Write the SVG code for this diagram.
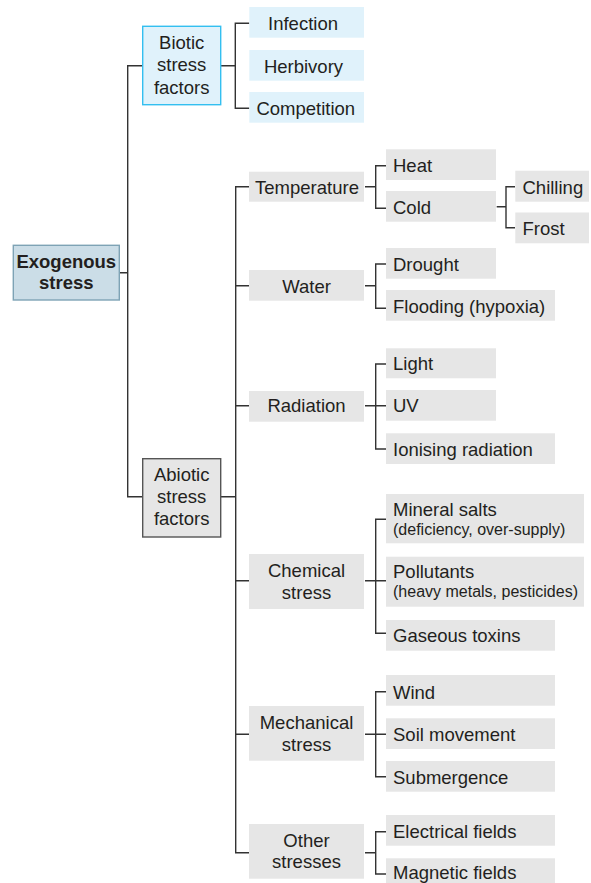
<svg xmlns="http://www.w3.org/2000/svg" width="591" height="883" viewBox="0 0 591 883">
<style>
text{font-family:"Liberation Sans",Arial,sans-serif;font-size:18.5px;fill:#231f20}
.c{text-anchor:middle}
.s{font-size:16px}
.b{font-weight:bold}
.g{fill:#e6e6e6}
.lb{fill:#e0f2fb}
.ln{fill:none;stroke:#333;stroke-width:1.4}
</style>
<rect width="591" height="883" fill="#fff"/>
<g id="connectors" class="ln">
<path d="M119.3 272.7H127.7M142.7 65.7H127.7V496.7H142.7"/>
<path d="M220.7 65.7H235.3M249.3 23.3H235.3V108.3H249.3"/>
<path d="M220.7 496.7H235.7M249 186.7H235.7V852.7H249M235.7 285.7H249M235.7 405.7H249M235.7 580.7H249M235.7 734.3H249"/>
<path d="M365 186.7H375.7M386 165.7H375.7V208.3H386"/>
<path d="M496.7 206.7H506M515 186.7H506V227.7H515"/>
<path d="M365 285.7H375.7M386 264H375.7V308.3H386"/>
<path d="M365 405.7H386M386 364H375.7V449H386"/>
<path d="M365 580.7H386M386 519.3H375.7V633.3H386"/>
<path d="M365 734.3H386M386 691.7H375.7V776.7H386"/>
<path d="M365 852.7H375.7M386 831.7H375.7V874H386"/>
</g>
<g id="exogenous"><rect x="13.3" y="245.3" width="106" height="54.7" fill="#cbdde7" stroke="#7ea3b5" stroke-width="1.4"/><text class="c b" x="66.3" y="268.3">Exogenous</text><text class="c b" x="66.3" y="289.3">stress</text></g>
<g id="biotic"><rect x="142.7" y="26.3" width="78" height="78.4" fill="#e0f2fb" stroke="#33bff0" stroke-width="1.4"/><text class="c" x="181.7" y="49">Biotic</text><text class="c" x="181.7" y="71">stress</text><text class="c" x="181.7" y="93.5">factors</text></g>
<g id="infection"><rect class="lb" x="249.3" y="7" width="114.7" height="30.7"/><text class="c" x="303" y="29.5">Infection</text></g>
<g id="herbivory"><rect class="lb" x="249.3" y="50" width="114.7" height="30.7"/><text class="c" x="303.5" y="72.5">Herbivory</text></g>
<g id="competition"><rect class="lb" x="249.3" y="92" width="114.7" height="30.7"/><text class="c" x="305.8" y="114.5">Competition</text></g>
<g id="abiotic"><rect x="142.7" y="458.7" width="78" height="78.3" fill="#e6e6e6" stroke="#555" stroke-width="1.4"/><text class="c" x="181.7" y="480.7">Abiotic</text><text class="c" x="181.7" y="503">stress</text><text class="c" x="181.7" y="525">factors</text></g>
<g id="temperature"><rect class="g" x="249" y="171.7" width="115" height="30"/><text class="c" x="307" y="194.3">Temperature</text></g>
<g id="heat"><rect class="g" x="386" y="149.3" width="110" height="30.7"/><text x="393" y="172.3">Heat</text></g>
<g id="cold"><rect class="g" x="386" y="191" width="110" height="30.7"/><text x="393" y="214">Cold</text></g>
<g id="chilling"><rect class="g" x="515.3" y="170.7" width="73.7" height="31"/><text x="522.5" y="194">Chilling</text></g>
<g id="frost"><rect class="g" x="515.3" y="212.5" width="73.7" height="30.8"/><text x="522.5" y="235">Frost</text></g>
<g id="water"><rect class="g" x="249" y="270" width="115" height="30.7"/><text class="c" x="306.5" y="292.7">Water</text></g>
<g id="drought"><rect class="g" x="386" y="248" width="110" height="30.7"/><text x="393" y="270.7">Drought</text></g>
<g id="flooding"><rect class="g" x="386" y="290" width="169" height="30.7"/><text x="393" y="312.7">Flooding (hypoxia)</text></g>
<g id="radiation"><rect class="g" x="249" y="391" width="115" height="30.7"/><text class="c" x="306.5" y="411.7">Radiation</text></g>
<g id="light"><rect class="g" x="386" y="348.3" width="110" height="30"/><text x="393" y="370">Light</text></g>
<g id="uv"><rect class="g" x="386" y="390" width="110" height="30.7"/><text x="393" y="412.3">UV</text></g>
<g id="ionising"><rect class="g" x="386" y="433.3" width="169" height="30.7"/><text x="393" y="456">Ionising radiation</text></g>
<g id="chemical"><rect class="g" x="249" y="554" width="115" height="55"/><text class="c" x="306.5" y="577.3">Chemical</text><text class="c" x="306.5" y="599">stress</text></g>
<g id="mineral"><rect class="g" x="386" y="494" width="198" height="49.3"/><text x="393" y="516">Mineral salts</text><text class="s" x="393" y="534.5">(deficiency, over-supply)</text></g>
<g id="pollutants"><rect class="g" x="386" y="556.7" width="198" height="50"/><text x="393" y="578.3">Pollutants</text><text class="s" x="393" y="596.7">(heavy metals, pesticides)</text></g>
<g id="gaseous"><rect class="g" x="386" y="620" width="169" height="30.7"/><text x="393" y="641.7">Gaseous toxins</text></g>
<g id="mechanical"><rect class="g" x="249" y="706" width="115" height="54.7"/><text class="c" x="306.5" y="729.3">Mechanical</text><text class="c" x="306.5" y="751">stress</text></g>
<g id="wind"><rect class="g" x="386" y="675" width="169" height="30.7"/><text x="393" y="699">Wind</text></g>
<g id="soil"><rect class="g" x="386" y="718.3" width="169" height="30.7"/><text x="393" y="741">Soil movement</text></g>
<g id="submergence"><rect class="g" x="386" y="761" width="169" height="30.7"/><text x="393" y="784">Submergence</text></g>
<g id="other"><rect class="g" x="249" y="824" width="115" height="54.7"/><text class="c" x="306.5" y="846.7">Other</text><text class="c" x="306.5" y="868.3">stresses</text></g>
<g id="electrical"><rect class="g" x="386" y="815" width="169" height="30.7"/><text x="393" y="838.3">Electrical fields</text></g>
<g id="magnetic"><rect class="g" x="386" y="858.3" width="169" height="30.7"/><text x="393" y="879.3">Magnetic fields</text></g>
</svg>
